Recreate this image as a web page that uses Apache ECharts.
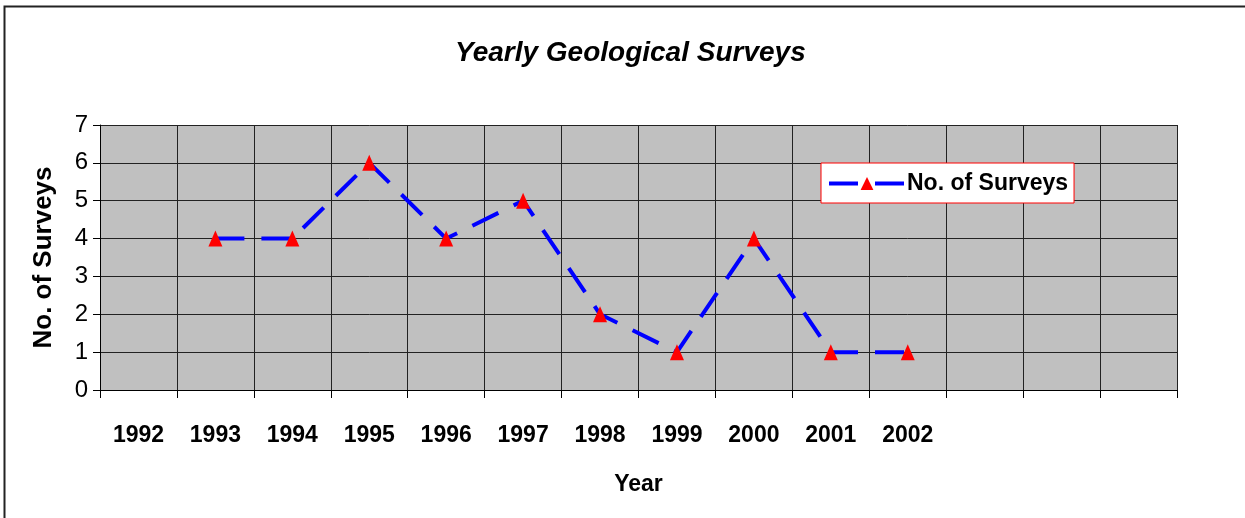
<!DOCTYPE html>
<html>
<head>
<meta charset="utf-8">
<script src="https://cdn.jsdelivr.net/npm/echarts@6/dist/echarts.min.js"></script>
<style>
  html, body { margin: 0; padding: 0; background: #fff; }
  #main { width: 1245px; height: 518px; }
</style>
</head>
<body>
<div id="main"></div>
<script>
// categories (last three slots have no label)
var years = ['1992', '1993', '1994', '1995', '1996', '1997', '1998', '1999', '2000', '2001', '2002', '', '', ''];
// no. of surveys, '-' = no value
var surveys = ['-', 4, 4, 6, 4, 5, 2, 1, 4, 1, 1, '-', '-', '-'];
var yTicks = { min: 0, max: 7, step: 1 };

var font = '"Liberation Sans", Arial, sans-serif';
var chart = echarts.init(document.getElementById('main'));

chart.setOption({
    animation: false,
    textStyle: { fontFamily: font, color: '#000' },
    title: {
        text: 'Yearly Geological Surveys',
        left: 450,
        top: 34,
        textStyle: { fontSize: 28, fontWeight: 'bold', fontStyle: 'italic', color: '#000', fontFamily: font }
    },
    graphic: [{
        type: 'rect',
        shape: { x: 4.5, y: 6.5, width: 1400, height: 700 },
        style: { fill: 'none', stroke: '#222', lineWidth: 2 },
        silent: true
    }],
    legend: {
        left: 821,
        top: 163,
        padding: [9, 6, 8, 6],
        backgroundColor: '#fff',
        borderColor: '#f00',
        borderWidth: 1,
        borderRadius: 0,
        itemWidth: 76,
        itemHeight: 16,
        itemGap: 4,
        lineStyle: { width: 4 },
        textStyle: { fontSize: 23, fontWeight: 'bold', color: '#000', fontFamily: font, padding: [0, 2, 0, -3] },
        data: ['No. of Surveys']
    },
    grid: {
        left: 100,
        right: 68,
        top: 125,
        bottom: 128,
        show: true,
        backgroundColor: '#C0C0C0',
        borderWidth: 0
    },
    xAxis: {
        type: 'category',
        data: years,
        boundaryGap: true,
        name: 'Year',
        nameLocation: 'middle',
        nameGap: 83,
        nameTextStyle: { fontSize: 23, fontWeight: 'bold', color: '#000', fontFamily: font },
        axisLine: { show: true, lineStyle: { color: '#000', width: 1 } },
        axisTick: { show: true, length: 8, interval: 0, lineStyle: { color: '#000' } },
        axisLabel: { interval: 0, margin: 34, fontSize: 23, fontWeight: 'bold', color: '#000', fontFamily: font },
        splitLine: { show: true, interval: 0, lineStyle: { color: '#222', width: 1 } }
    },
    yAxis: {
        type: 'value',
        min: yTicks.min,
        max: yTicks.max,
        interval: yTicks.step,
        name: 'No. of Surveys',
        nameLocation: 'middle',
        nameGap: 43,
        nameTextStyle: { fontSize: 26, fontWeight: 'bold', color: '#000', fontFamily: font },
        axisLine: { show: true, lineStyle: { color: '#000', width: 1 } },
        axisTick: { show: true, length: 7, lineStyle: { color: '#000' } },
        axisLabel: { margin: 12, fontSize: 24, color: '#000', fontFamily: font },
        splitLine: { show: true, lineStyle: { color: '#222', width: 1 } }
    },
    series: [{
        name: 'No. of Surveys',
        type: 'line',
        data: surveys,
        connectNulls: false,
        symbol: 'triangle',
        symbolSize: [14, 16],
        showAllSymbol: true,
        itemStyle: { color: '#f00' },
        lineStyle: { color: '#00f', width: 4, type: [29, 17] }
    }]
});
</script>
</body>
</html>
